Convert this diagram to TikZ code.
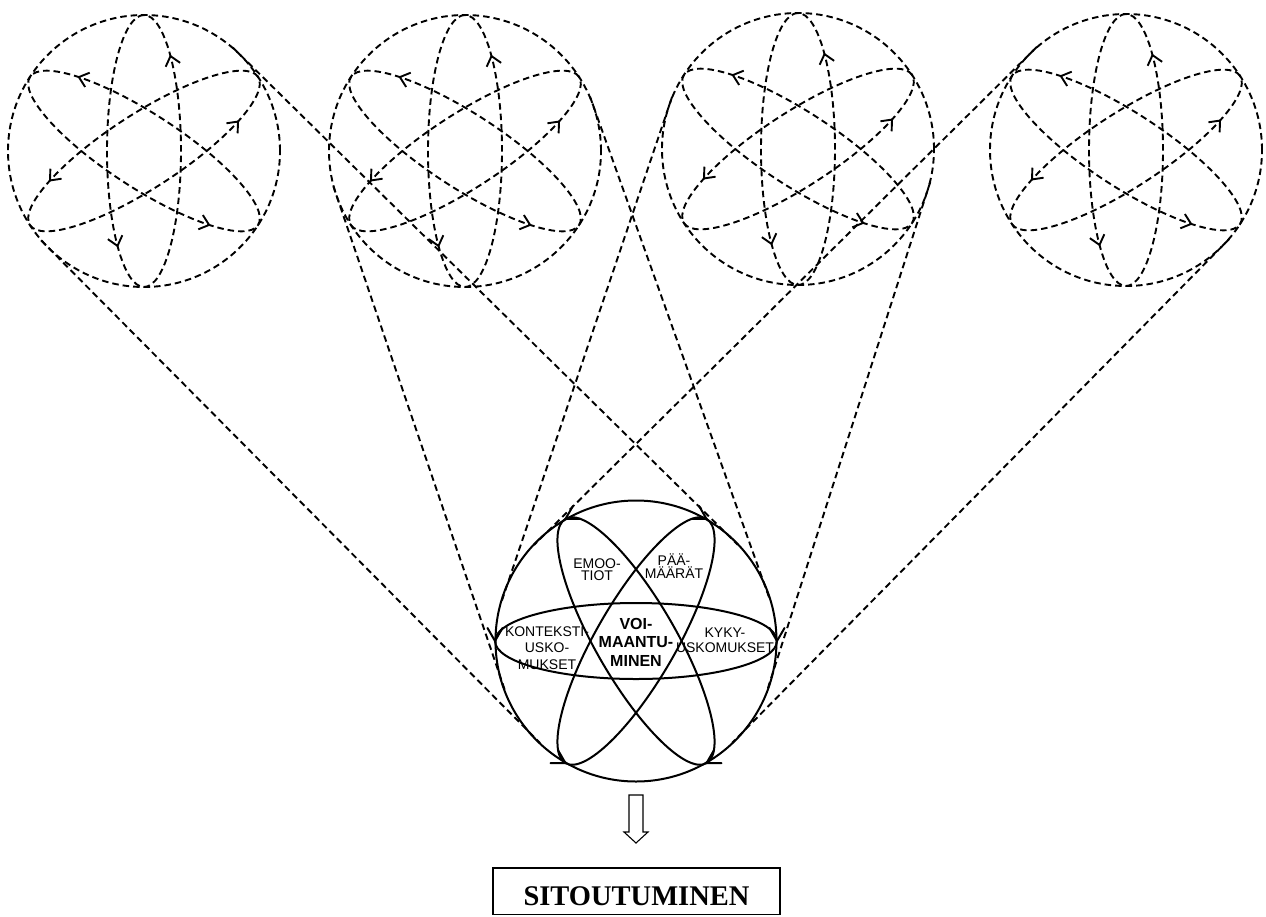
\documentclass[tikz,border=0pt]{standalone}
\usepackage{fontspec}
\setmainfont{Liberation Serif}
\newfontfamily\labfont{Liberation Sans}
\usetikzlibrary{calc,decorations.markings,arrows.meta}
\tikzset{
  dsh/.style={line width=1.9pt, dash pattern=on 6.5pt off 4pt},
  sol/.style={line width=2pt},
  orbit/.style={dsh, postaction={decorate},
    decoration={markings,
      mark=at position 0.415 with {\arrow{Straight Barb[length=9pt,width=15pt]}},
      mark=at position 0.915 with {\arrow{Straight Barb[length=9pt,width=15pt]}}}},
  lab/.style={font=\labfont\fontsize{14pt}{12.5pt}\selectfont, align=center, inner sep=0pt},
}
\newcommand\barbs[3]{\draw[sol, line cap=round] ($(#1)+(#2:15pt)$) -- (#1) -- ($(#1)+(#3:15pt)$);}
\begin{document}
\begin{tikzpicture}[x=1pt,y=1pt]
\useasboundingbox (0,0) rectangle (1266,-916);
\coordinate (c1) at (144,-151);
\coordinate (c2) at (465,-151);
\coordinate (c3) at (798,-149);
\coordinate (c4) at (1126,-150);
\coordinate (cb) at (636,-641);

% top atoms
\foreach \c in {c1,c2,c3,c4}{
  \draw[dsh] (\c) circle[radius=136pt];
  \foreach \ang in {90,33,-33}
    \draw[orbit, rotate around={\ang:(\c)}] (\c) ellipse[x radius=136pt, y radius=37pt];
}

% tangent connectors
\foreach \c in {c1,c2,c3,c4}{
  \draw[dsh, shorten <=-10pt, shorten >=-4pt] ($(\c)!136pt!-90:(cb)$) -- ($(cb)!140pt!90:(\c)$);
  \draw[dsh, shorten <=-10pt, shorten >=-4pt] ($(\c)!136pt!90:(cb)$) -- ($(cb)!140pt!-90:(\c)$);
}

% bottom atom
\draw[sol] (cb) circle[radius=140.5pt];
\draw[sol] (cb) ellipse[x radius=141pt, y radius=38pt];
\draw[sol, rotate around={60:(cb)}] (cb) ellipse[x radius=141pt, y radius=40pt];
\draw[sol, rotate around={120:(cb)}] (cb) ellipse[x radius=141pt, y radius=40pt];
\coordinate (HL) at ($(cb)+(180:141pt)$);
\coordinate (HR) at ($(cb)+(0:141pt)$);
\coordinate (P2) at ($(cb)+(60:141pt)$);
\coordinate (Q1) at ($(cb)+(240:141pt)$);
\coordinate (P1) at ($(cb)+(120:141pt)$);
\coordinate (Q2) at ($(cb)+(300:141pt)$);
\barbs{HL}{60}{120}
\barbs{HR}{60}{120}
\barbs{P2}{120}{180}
\barbs{Q1}{120}{180}
\barbs{P1}{0}{60}
\barbs{Q2}{0}{60}

% labels
\node[lab] (emo) at (597,-569.5) {EMOO-\\TIOT};
\node[lab] (paa) at (674,-566) {PÄÄ-\\MÄÄRÄT};
\node[lab, font=\labfont\fontsize{14pt}{16.5pt}\selectfont] (kon) at (547,-648) {KONTEKSTI-\\USKO-\\MUKSET};
\node[lab, font=\labfont\fontsize{14pt}{15pt}\selectfont] (kyk) at (725,-640) {KYKY-\\USKOMUKSET};
\node[lab, font=\labfont\bfseries\fontsize{16pt}{18.5pt}\selectfont] (voi) at (636,-642) {VOI-\\MAANTU-\\MINEN};

% block arrow
\draw[line width=1.1pt, line join=miter] (629,-795) -- (643,-795) -- (643,-832) -- (648,-832) -- (636,-843) -- (624,-832) -- (629,-832) -- cycle;

% result box
\node[draw, line width=1.5pt, minimum width=287pt, minimum height=46.5pt, inner sep=0pt,
      text height=29pt, text depth=0pt, font=\bfseries\fontsize{28.5pt}{30pt}\selectfont] (sit) at (636.5,-891) {SITOUTUMINEN};
\end{tikzpicture}
\end{document}
